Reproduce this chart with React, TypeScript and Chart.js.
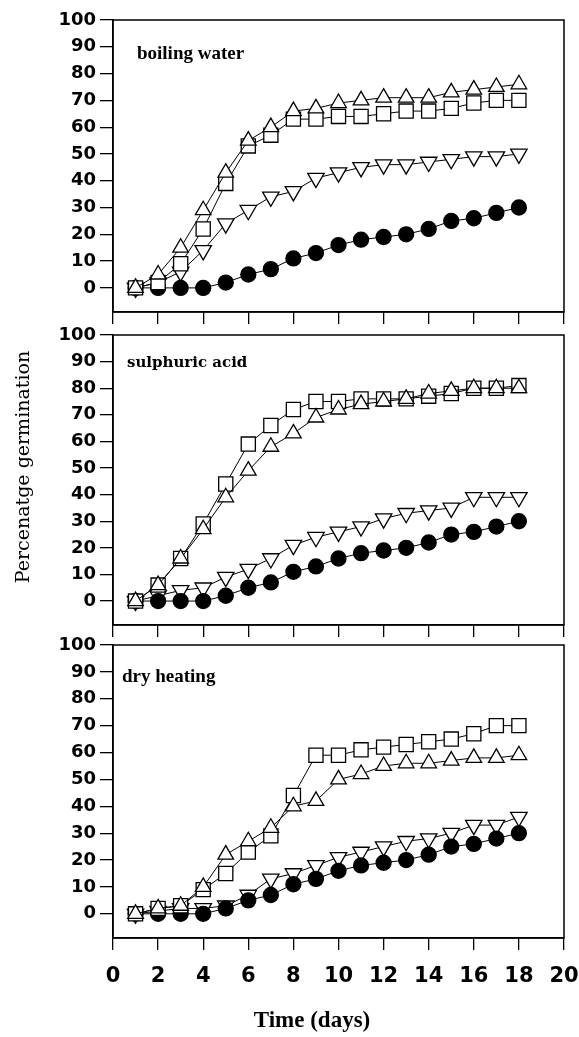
import React, { useEffect, useRef } from 'react';
import { Chart, registerables } from 'chart.js';

Chart.register(...registerables);

// ---------- data ----------
const days = [1, 2, 3, 4, 5, 6, 7, 8, 9, 10, 11, 12, 13, 14, 15, 16, 17, 18];
const yTickValues = [0, 10, 20, 30, 40, 50, 60, 70, 80, 90, 100];
const xTickValues = [0, 2, 4, 6, 8, 10, 12, 14, 16, 18, 20];

// control (filled circles) – same in every panel
const control = [0, 0, 0, 0, 2, 5, 7, 11, 13, 16, 18, 19, 20, 22, 25, 26, 28, 30];

// boiling water
const bwSquare = [0, 2, 9, 22, 39, 53, 57, 63, 63, 64, 64, 65, 66, 66, 67, 69, 70, 70];
const bwTriangle = [0, 5, 15, 29, 43, 55, 60, 66, 67, 69, 70, 71, 71, 71, 73, 74, 75, 76];
const bwDownTriangle = [0, 2, 6, 14, 24, 29, 34, 36, 41, 43, 45, 46, 46, 47, 48, 49, 49, 50];

// sulphuric acid
const saSquare = [0, 6, 16, 29, 44, 59, 66, 72, 75, 75, 76, 76, 76, 77, 78, 80, 80, 81];
const saTriangle = [0, 6, 16, 27, 39, 49, 58, 63, 69, 72, 74, 75, 76, 78, 79, 80, 80, 80];
const saDownTriangle = [0, 2, 4, 5, 9, 12, 16, 21, 24, 26, 28, 31, 33, 34, 35, 39, 39, 39];

// dry heating
const dhSquare = [0, 2, 3, 9, 15, 23, 29, 44, 59, 59, 61, 62, 63, 64, 65, 67, 70, 70];
const dhTriangle = [0, 2, 3, 10, 22, 27, 32, 40, 42, 50, 52, 55, 56, 56, 57, 58, 58, 59];
const dhDownTriangle = [0, 1, 2, 2, 3, 7, 13, 15, 18, 21, 23, 25, 27, 28, 30, 33, 33, 36];

const panelLabels = ['boiling water', 'sulphuric acid', 'dry heating'];
const yTitle = 'Percenatge germination';
const xTitle = 'Time (days)';

// ---------- plugins ----------
const boxPlugin = {
  id: 'box',
  beforeDatasetsDraw(chart: any) {
    const { ctx, chartArea } = chart;
    const { left, top, right, bottom } = chartArea;
    ctx.save();
    ctx.strokeStyle = '#000';
    ctx.lineWidth = 1.5;
    ctx.strokeRect(left, top, right - left, bottom - top);
    ctx.restore();
  },
};

const textPlugin = {
  id: 'texts',
  afterDraw(chart: any, _args: any, opts: any) {
    const items = (opts && opts.items) || [];
    const ctx = chart.ctx;
    for (let i = 0; i < items.length; i++) {
      const t = items[i];
      ctx.save();
      ctx.font = t.font;
      ctx.fillStyle = '#000';
      ctx.textAlign = t.align || 'left';
      ctx.textBaseline = t.baseline || 'alphabetic';
      ctx.translate(t.x, t.y);
      if (t.rotate) ctx.rotate(t.rotate);
      ctx.fillText(t.text, 0, 0);
      ctx.restore();
    }
  },
};

type PanelProps = {
  top: number;
  height: number;
  padTop: number;
  xAxisHeight: number;
  square: number[];
  triangle: number[];
  downTriangle: number[];
  showX: boolean;
  texts: any[];
};

const toPoints = (vals: number[]) => days.map((d, i) => ({ x: d, y: vals[i] }));

function Panel(props: PanelProps) {
  const ref = useRef<HTMLCanvasElement | null>(null);
  useEffect(() => {
    const common = {
      borderColor: '#000',
      borderWidth: 1,
      pointBorderColor: '#000',
      pointBorderWidth: 1.3,
      tension: 0,
      fill: false,
    };
    const chart = new Chart(ref.current as HTMLCanvasElement, {
      type: 'line',
      data: {
        datasets: [
          {
            ...common,
            label: 'triangle',
            data: toPoints(props.triangle),
            pointStyle: 'triangle',
            pointRadius: 9,
            pointBackgroundColor: '#fff',
            order: 1,
          },
          {
            ...common,
            label: 'square',
            data: toPoints(props.square),
            pointStyle: 'rect',
            pointRadius: 10,
            pointBackgroundColor: '#fff',
            order: 2,
          },
          {
            ...common,
            label: 'control',
            data: toPoints(control),
            pointStyle: 'circle',
            pointRadius: 7.5,
            pointBackgroundColor: '#000',
            order: 3,
          },
          {
            ...common,
            label: 'down triangle',
            data: toPoints(props.downTriangle),
            pointStyle: 'triangle',
            pointRotation: 180,
            pointRadius: 9.5,
            pointBackgroundColor: '#fff',
            order: 4,
          },
        ] as any,
      },
      options: {
        animation: false,
        responsive: false,
        maintainAspectRatio: false,
        events: [],
        layout: { padding: { top: props.padTop, right: 15, bottom: 0, left: 0 } },
        plugins: {
          legend: { display: false },
          tooltip: { enabled: false },
          texts: { items: props.texts },
        } as any,
        scales: {
          x: {
            type: 'linear',
            min: 0,
            max: 20,
            afterBuildTicks: (s: any) => {
              s.ticks = xTickValues.map((v) => ({ value: v }));
            },
            afterFit: (s: any) => {
              s.height = props.xAxisHeight;
              s.paddingLeft = 0;
              s.paddingRight = 0;
              s.paddingTop = 0;
              s.paddingBottom = 0;
            },
            grid: {
              display: true,
              drawOnChartArea: false,
              drawTicks: true,
              tickLength: 12,
              color: '#000',
              lineWidth: 1.3,
            },
            border: { display: true, color: '#000', width: 1.5 },
            ticks: {
              display: props.showX,
              autoSkip: false,
              maxRotation: 0,
              padding: 14,
              color: '#000',
              font: { family: 'DejaVu Sans', weight: 'bold', size: 21 },
            },
          },
          y: {
            type: 'linear',
            min: -9,
            max: 100,
            afterBuildTicks: (s: any) => {
              s.ticks = yTickValues.map((v) => ({ value: v }));
            },
            afterFit: (s: any) => {
              s.width = 113;
              s.paddingLeft = 0;
              s.paddingRight = 0;
              s.paddingTop = 0;
              s.paddingBottom = 0;
            },
            grid: {
              display: true,
              drawOnChartArea: false,
              drawTicks: true,
              tickLength: 13,
              color: '#000',
              lineWidth: 1.3,
            },
            border: { display: true, color: '#000', width: 1.5 },
            ticks: {
              autoSkip: false,
              padding: 4,
              color: '#000',
              font: { family: 'DejaVu Sans', weight: 'bold', size: 18 },
            },
          },
        } as any,
      },
      plugins: [boxPlugin, textPlugin],
    });
    return () => chart.destroy();
  }, []);
  return (
    <canvas
      ref={ref}
      width={579}
      height={props.height}
      style={{ position: 'absolute', left: 0, top: props.top, width: 579, height: props.height }}
    />
  );
}

export default function App() {
  return (
    <div style={{ position: 'absolute', left: 0, top: 0, width: 579, height: 1037, background: '#fff' }}>
      <Panel
        top={0}
        height={330}
        padTop={20}
        xAxisHeight={18}
        square={bwSquare}
        triangle={bwTriangle}
        downTriangle={bwDownTriangle}
        showX={false}
        texts={[{ text: panelLabels[0], x: 137, y: 59, font: 'bold 19px "Liberation Serif"' }]}
      />
      <Panel
        top={315}
        height={325}
        padTop={20}
        xAxisHeight={15}
        square={saSquare}
        triangle={saTriangle}
        downTriangle={saDownTriangle}
        showX={false}
        texts={[
          { text: panelLabels[1], x: 127, y: 52, font: 'bold 15px "DejaVu Serif"' },
          {
            text: yTitle,
            x: 24,
            y: 152,
            rotate: -Math.PI / 2,
            align: 'center',
            baseline: 'middle',
            font: '19px "DejaVu Serif"',
          },
        ]}
      />
      <Panel
        top={625}
        height={412}
        padTop={20}
        xAxisHeight={99}
        square={dhSquare}
        triangle={dhTriangle}
        downTriangle={dhDownTriangle}
        showX={true}
        texts={[
          { text: panelLabels[2], x: 122, y: 57, font: 'bold 19px "Liberation Serif"' },
          { text: xTitle, x: 312, y: 396, align: 'center', baseline: 'middle', font: 'bold 23px "Liberation Serif"' },
        ]}
      />
    </div>
  );
}
